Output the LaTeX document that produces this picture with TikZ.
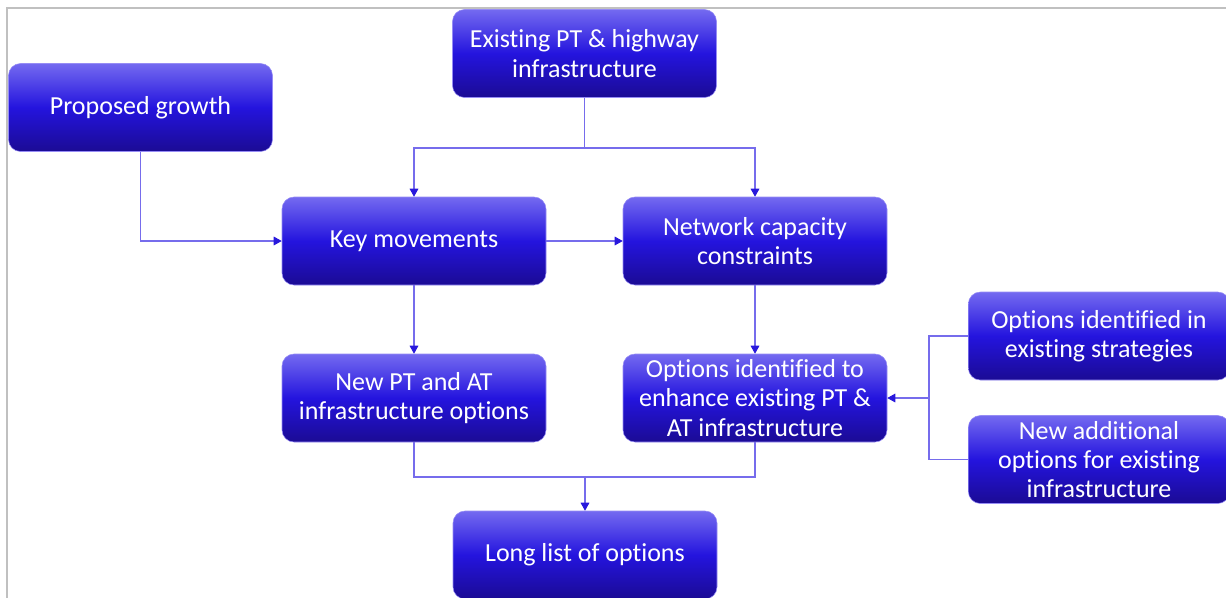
\documentclass[tikz,border=0pt]{standalone}
\usepackage{fontspec}
\setmainfont[Ligatures=NoCommon]{Carlito}
\usetikzlibrary{arrows.meta}
\definecolor{boxtop}{RGB}{116,106,240}
\definecolor{boxmid}{RGB}{36,20,222}
\definecolor{boxbot}{RGB}{27,11,148}
\definecolor{boxedge}{RGB}{150,140,245}
\definecolor{linec}{RGB}{118,108,236}
\definecolor{arrc}{RGB}{40,24,220}
\definecolor{framec}{RGB}{192,192,192}
\begin{document}
\begin{tikzpicture}[x=0.75pt,y=-0.75pt,
  box/.style={rounded corners=9pt, minimum width=198pt, minimum height=66pt,
    top color=boxtop, bottom color=boxbot, middle color=boxmid,
    draw=boxedge, line width=0.4pt, text=white, align=center, inner sep=2pt,
    font=\fontsize{19.5}{21.9}\selectfont},
  conn/.style={draw=linec, line width=0.8pt},
  arr/.style={conn, -{Triangle[width=6.5pt,length=6pt,color=arrc]}}]
\useasboundingbox (0,0) rectangle (1226,597);
\begin{scope}
\clip (0,0) rectangle (1226,597);
\draw[framec, line width=1.5pt] (7,610) -- (7,8) -- (1240,8);

\node[box] (ex) at (584.5,53.5) {Existing PT \& highway\\infrastructure};
\node[box] (pg) at (140.5,107.5) {Proposed growth};
\node[box] (km) at (414,241) {Key movements};
\node[box] (nc) at (755,241) {Network capacity\\constraints};
\node[box] (np) at (414,398) {New PT and AT\\infrastructure options};
\node[box] (oe) at (755,398) {Options identified to\\enhance existing PT \&\\AT infrastructure};
\node[box, minimum width=196pt] (os) at (1099,336) {Options identified in\\existing strategies};
\node[box, minimum width=196pt] (na) at (1099,459.5) {New additional\\options for existing\\infrastructure};
\node[box] (ll) at (585,555) {Long list of options};

\coordinate (j1) at (584.5,148);
\coordinate (j2) at (585,477);
\coordinate (j3) at (929,398);

\draw[conn] (ex.south) -- (j1);
\draw[arr] (j1) -| (km.north);
\draw[arr] (j1) -| (nc.north);
\draw[arr] (pg.south) |- (km.west);
\draw[arr] (km.east) -- (nc.west);
\draw[arr] (km.south) -- (np.north);
\draw[arr] (nc.south) -- (oe.north);
\draw[conn] (np.south) |- (j2) -| (oe.south);
\draw[arr] (j2) -- (ll.north);
\draw[conn] (os.west) -| (j3);
\draw[conn] (na.west) -| (j3);
\draw[arr] (j3) -- (oe.east);
\end{scope}
\end{tikzpicture}
\end{document}
